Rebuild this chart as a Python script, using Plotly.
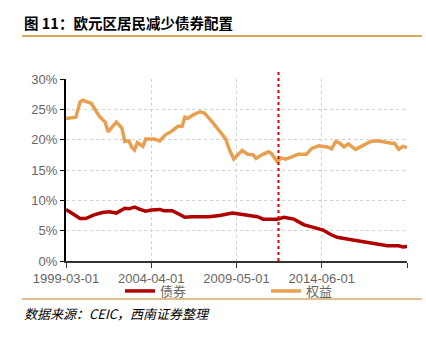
import plotly.graph_objects as go

equity_dates = ["1999-03-01","1999-10-01","2000-01-01","2000-03-01","2000-09-01","2001-03-01","2001-07-01","2001-09-01",
    "2002-03-01","2002-07-01","2002-09-01","2002-12-01","2003-02-01","2003-04-01","2003-06-01","2003-10-01","2003-12-01",
    "2004-06-01","2004-10-01","2005-02-01","2005-06-01","2005-08-01","2005-11-01","2006-02-01","2006-04-01","2006-06-01",
    "2006-10-01","2007-03-01","2007-06-01","2007-12-01","2008-05-01","2008-09-01","2008-12-01","2009-03-01","2009-09-01",
    "2010-01-01","2010-05-01","2010-07-01","2010-11-01","2011-04-01","2011-06-01","2011-10-01","2012-01-01","2012-04-01",
    "2012-09-01","2013-01-01","2013-07-01","2013-11-01","2014-04-01","2014-10-01","2015-01-01","2015-04-01","2015-07-01",
    "2015-10-01","2016-01-01","2016-06-01","2016-12-01","2017-05-01","2017-10-01","2018-02-01","2018-08-01","2018-10-01",
    "2019-01-01","2019-04-01","2019-07-01"]
equity_vals = [23.5,23.7,26.2,26.5,26.0,23.8,22.9,21.3,
    22.9,21.9,19.7,19.8,18.7,18.3,19.5,18.9,20.1,
    20.1,19.8,20.8,21.3,21.6,22.2,22.2,23.7,23.5,
    24.1,24.6,24.4,22.8,21.3,20.2,18.3,16.8,18.2,
    17.6,17.5,16.9,17.5,18.0,17.7,16.4,17.0,16.8,
    17.2,17.6,17.6,18.6,19.0,18.8,18.5,19.7,19.4,
    18.8,19.3,18.4,19.1,19.7,19.8,19.6,19.4,19.4,
    18.4,18.9,18.7]

bond_dates = ["1999-03-01","1999-07-01","1999-10-01","2000-01-01","2000-05-01","2000-11-01","2001-05-01","2001-10-01",
    "2002-03-01","2002-09-01","2002-12-01","2003-04-01","2003-08-01","2003-12-01","2004-04-01","2004-10-01","2005-01-01",
    "2005-07-01","2005-12-01","2006-04-01","2006-09-01","2007-03-01","2007-09-01","2008-05-01","2008-08-01","2009-02-01",
    "2009-08-01","2010-01-01","2010-08-01","2010-12-01","2011-10-01","2012-03-01","2012-10-01","2013-05-01","2013-12-01",
    "2014-07-01","2014-12-01","2015-05-01","2016-01-01","2016-08-01","2017-03-01","2017-10-01","2018-05-01","2019-01-01",
    "2019-04-01","2019-07-01"]
bond_vals = [8.5,7.9,7.6,7.0,7.0,7.6,8.0,8.1,
    7.9,8.7,8.6,8.9,8.5,8.2,8.4,8.5,8.3,
    8.3,7.7,7.2,7.3,7.3,7.3,7.5,7.6,7.9,
    7.7,7.5,7.3,6.9,6.9,7.2,6.9,6.0,5.6,
    5.1,4.4,3.9,3.6,3.3,3.0,2.75,2.5,2.5,
    2.3,2.4]

tick_vals = ["1999-03-01","2004-04-01","2009-05-01","2014-06-01","2019-07-01"]
tick_text = ["1999-03-01","2004-04-01","2009-05-01","2014-06-01",""]
marker_date = "2011-11-01"

fig = go.Figure()
fig.add_trace(go.Scatter(x=bond_dates, y=[v/100 for v in bond_vals], name="债券", mode="lines",
                         line=dict(color="#B00000", width=3.5)))
fig.add_trace(go.Scatter(x=equity_dates, y=[v/100 for v in equity_vals], name="权益", mode="lines",
                         line=dict(color="#E8A050", width=3.5)))

fig.add_shape(type="line", x0=marker_date, x1=marker_date, xref="x", yref="paper", y0=0, y1=1.04,
              line=dict(color="#E00000", width=2, dash="dot"))

# title and decoration lines
fig.add_annotation(text="<b>图 11：欧元区居民减少债券配置</b>", xref="paper", yref="paper",
                   x=-44/341, y=(261-22)/182, xanchor="left", yanchor="middle", showarrow=False,
                   font=dict(family="Noto Sans CJK SC", size=14.5, color="#000000"))
fig.add_shape(type="line", xref="paper", yref="paper", x0=-44/341, x1=356/341,
              y0=(261-36)/182, y1=(261-36)/182, line=dict(color="#D8A860", width=2))
fig.add_shape(type="line", xref="paper", yref="paper", x0=-44/341, x1=356/341,
              y0=(261-299)/182, y1=(261-299)/182, line=dict(color="#D8A860", width=1.5))
fig.add_annotation(text="<i>数据来源：CEIC，西南证券整理</i>", xref="paper", yref="paper",
                   x=-44/341, y=(261-313)/182, xanchor="left", yanchor="middle", showarrow=False,
                   font=dict(family="Noto Sans CJK SC", size=13, color="#000000"))

fig.update_layout(
    width=426, height=337,
    margin=dict(l=66, r=19, t=79, b=76, autoexpand=False),
    paper_bgcolor="white", plot_bgcolor="white",
    font=dict(family="Liberation Sans, Arial", size=13, color="#666666"),
    showlegend=True,
    legend=dict(orientation="h", x=(125-66-5)/341, xanchor="left", y=(261-291)/182, yanchor="middle",
                font=dict(family="Noto Sans CJK SC", size=13, color="#666666"),
                itemwidth=30, tracegroupgap=0, bgcolor="rgba(0,0,0,0)", entrywidthmode="pixels", entrywidth=101),
)
fig.update_xaxes(type="date", range=["1999-03-01", "2019-07-01"], tickvals=tick_vals, ticktext=tick_text,
                 showgrid=True, gridcolor="#D0D0D0", griddash="dot", gridwidth=1,
                 showline=True, linecolor="#333333", linewidth=1.5, ticks="outside", ticklen=5,
                 tickcolor="#333333", tickfont=dict(size=13, color="#666666"), zeroline=False)
fig.update_yaxes(range=[0, 0.30], dtick=0.05, tickformat=".0%",
                 showgrid=True, gridcolor="#D0D0D0", griddash="dot", gridwidth=1,
                 showline=True, linecolor="#000000", linewidth=2, ticks="outside", ticklen=4,
                 tickcolor="#000000", tickfont=dict(size=13, color="#666666"), zeroline=False)

fig.write_html("out.html")
